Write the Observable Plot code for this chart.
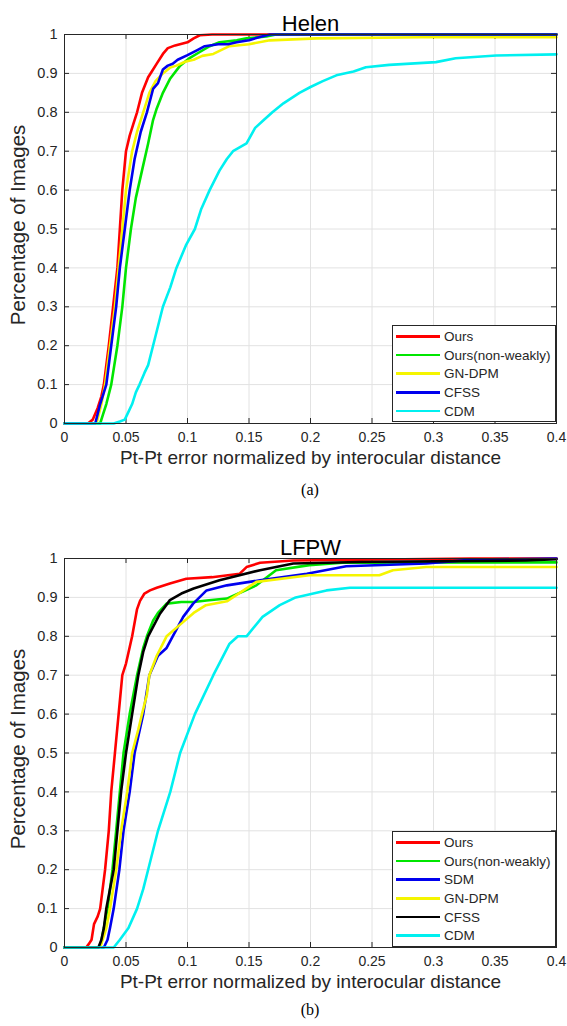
<!DOCTYPE html>
<html>
<head>
<meta charset="utf-8">
<script src="https://cdn.jsdelivr.net/npm/d3@7"></script>
<script src="https://cdn.jsdelivr.net/npm/@observablehq/plot@0.6"></script>
<style>
  html, body { margin: 0; padding: 0; background: #fff; }
  #root { position: relative; width: 567px; height: 1026px; overflow: hidden; font-family: "Liberation Sans", Arial, sans-serif; }
  .panel { position: absolute; left: 0; }
  .caption { position: absolute; left: 0; width: 620px; text-align: center; font-family: "Liberation Serif", "Times New Roman", serif; font-size: 16px; color: #000; }
  .legend { position: absolute; box-sizing: border-box; border: 1px solid #262626; background: #fff; padding: 1px 0; }
  .legend .row { display: flex; align-items: center; height: 18.7px; }
  .legend .swatch { width: 44px; height: 2.6px; margin-left: 3px; }
  .legend .lab { margin-left: 4px; font-size: 13.5px; color: #262626; white-space: nowrap; }
</style>
</head>
<body>
<div id="root"></div>
<script>
// ---------- tick labels ----------
const xTicks = [0, 0.05, 0.1, 0.15, 0.2, 0.25, 0.3, 0.35, 0.4];
const yTicks = [0, 0.1, 0.2, 0.3, 0.4, 0.5, 0.6, 0.7, 0.8, 0.9, 1];
const xLabel = "Pt-Pt error normalized by interocular distance";
const yLabel = "Percentage of Images";

// ---------- Helen ----------
const helenNames = ["Ours", "Ours(non-weakly)", "GN-DPM", "CFSS", "CDM"];
const helenColors = ["#ff0000", "#00e600", "#f5f500", "#0000ee", "#00f0f0"];
const helenOurs = [[0,0],[0.019,0],[0.023,0.01],[0.027,0.04],[0.030,0.07],[0.032,0.1],[0.036,0.2],[0.0395,0.3],[0.043,0.4],[0.045,0.5],[0.047,0.6],[0.050,0.7],[0.053,0.74],[0.056,0.77],[0.059,0.8],[0.063,0.85],[0.068,0.89],[0.072,0.91],[0.075,0.925],[0.080,0.95],[0.084,0.965],[0.090,0.972],[0.1,0.98],[0.105,0.99],[0.11,0.998],[0.12,1.0],[0.4,1.0]];
const helenNonWeakly = [[0,0],[0.029,0],[0.031,0.02],[0.034,0.05],[0.038,0.1],[0.043,0.2],[0.047,0.3],[0.050,0.4],[0.054,0.5],[0.058,0.58],[0.063,0.65],[0.068,0.72],[0.072,0.78],[0.075,0.81],[0.080,0.85],[0.086,0.887],[0.094,0.92],[0.102,0.94],[0.11,0.955],[0.118,0.97],[0.126,0.98],[0.14,0.985],[0.148,0.99],[0.164,0.995],[0.172,1.0],[0.4,1.0]];
const helenGNDPM = [[0,0],[0.026,0],[0.030,0.05],[0.033,0.1],[0.037,0.2],[0.041,0.3],[0.044,0.4],[0.047,0.5],[0.050,0.6],[0.055,0.7],[0.059,0.75],[0.064,0.8],[0.069,0.85],[0.074,0.88],[0.080,0.9],[0.086,0.915],[0.091,0.92],[0.098,0.93],[0.105,0.935],[0.112,0.945],[0.121,0.95],[0.134,0.97],[0.15,0.975],[0.167,0.985],[0.205,0.99],[0.29,0.993],[0.4,0.993]];
const helenCFSS = [[0,0],[0.025,0],[0.029,0.05],[0.034,0.1],[0.038,0.2],[0.042,0.3],[0.045,0.4],[0.049,0.5],[0.053,0.6],[0.057,0.68],[0.062,0.75],[0.067,0.8],[0.072,0.86],[0.076,0.875],[0.080,0.91],[0.084,0.92],[0.088,0.925],[0.092,0.935],[0.1,0.947],[0.108,0.96],[0.114,0.97],[0.125,0.975],[0.133,0.975],[0.14,0.98],[0.15,0.985],[0.158,0.993],[0.167,1.0],[0.4,1.0]];
const helenCDM = [[0,0],[0.040,0],[0.045,0.005],[0.049,0.01],[0.052,0.03],[0.055,0.05],[0.058,0.08],[0.061,0.1],[0.065,0.13],[0.068,0.15],[0.072,0.2],[0.076,0.25],[0.080,0.3],[0.086,0.35],[0.091,0.4],[0.095,0.43],[0.099,0.46],[0.106,0.5],[0.111,0.55],[0.118,0.6],[0.126,0.65],[0.132,0.68],[0.137,0.7],[0.148,0.72],[0.155,0.76],[0.162,0.78],[0.169,0.8],[0.178,0.823],[0.191,0.85],[0.2,0.865],[0.21,0.88],[0.221,0.895],[0.235,0.905],[0.245,0.916],[0.264,0.922],[0.302,0.929],[0.318,0.939],[0.351,0.946],[0.4,0.949]];

// ---------- LFPW ----------
const lfpwNames = ["Ours", "Ours(non-weakly)", "SDM", "GN-DPM", "CFSS", "CDM"];
const lfpwColors = ["#ff0000", "#00e600", "#0000ee", "#f5f500", "#000000", "#00f0f0"];
const lfpwOurs = [[0,0],[0.0176,0],[0.020,0.01],[0.022,0.02],[0.024,0.06],[0.027,0.08],[0.029,0.1],[0.031,0.15],[0.033,0.2],[0.036,0.3],[0.038,0.4],[0.041,0.5],[0.044,0.6],[0.047,0.7],[0.050,0.73],[0.055,0.8],[0.059,0.87],[0.0614,0.891],[0.065,0.91],[0.0695,0.918],[0.075,0.925],[0.0857,0.936],[0.099,0.948],[0.12,0.952],[0.1425,0.961],[0.148,0.978],[0.159,0.989],[0.186,0.995],[0.33,1.0],[0.4,1.0]];
const lfpwNonWeakly = [[0,0],[0.029,0],[0.032,0.05],[0.035,0.1],[0.039,0.2],[0.042,0.3],[0.045,0.4],[0.048,0.5],[0.053,0.6],[0.059,0.7],[0.064,0.77],[0.067,0.8],[0.072,0.84],[0.076,0.86],[0.083,0.884],[0.095,0.888],[0.105,0.888],[0.1155,0.892],[0.132,0.897],[0.145,0.915],[0.156,0.931],[0.172,0.97],[0.199,0.983],[0.226,0.989],[0.4,0.99]];
const lfpwSDM = [[0,0],[0.032,0],[0.035,0.02],[0.037,0.05],[0.040,0.1],[0.0446,0.2],[0.048,0.3],[0.053,0.4],[0.057,0.5],[0.064,0.6],[0.069,0.7],[0.076,0.75],[0.083,0.77],[0.088,0.8],[0.0965,0.85],[0.1046,0.884],[0.1155,0.918],[0.132,0.931],[0.159,0.944],[0.197,0.961],[0.229,0.98],[0.294,0.987],[0.332,0.997],[0.4,1.0]];
const lfpwGNDPM = [[0,0],[0.029,0],[0.034,0.05],[0.037,0.1],[0.042,0.2],[0.046,0.3],[0.051,0.4],[0.055,0.5],[0.060,0.56],[0.063,0.6],[0.067,0.65],[0.069,0.7],[0.075,0.75],[0.083,0.8],[0.094,0.83],[0.105,0.86],[0.115,0.88],[0.132,0.89],[0.156,0.94],[0.199,0.957],[0.256,0.957],[0.267,0.97],[0.294,0.978],[0.4,0.978]];
const lfpwCFSS = [[0,0],[0.0276,0],[0.030,0.02],[0.032,0.05],[0.034,0.1],[0.040,0.2],[0.043,0.3],[0.046,0.4],[0.050,0.5],[0.055,0.6],[0.060,0.7],[0.064,0.76],[0.068,0.8],[0.0776,0.858],[0.0857,0.893],[0.095,0.91],[0.105,0.923],[0.126,0.944],[0.159,0.97],[0.186,0.987],[0.24,0.991],[0.375,0.995],[0.4,0.998]];
const lfpwCDM = [[0,0],[0.040,0],[0.045,0.02],[0.052,0.05],[0.059,0.1],[0.064,0.15],[0.068,0.2],[0.076,0.3],[0.086,0.4],[0.094,0.5],[0.106,0.6],[0.121,0.7],[0.134,0.78],[0.141,0.8],[0.148,0.8],[0.161,0.85],[0.175,0.88],[0.188,0.9],[0.213,0.918],[0.232,0.925],[0.4,0.925]];

function toRows(names, seriesList) {
  const rows = [];
  names.forEach((n, i) => seriesList[i].forEach(([x, y]) => rows.push({name: n, x, y})));
  return rows;
}

function panel(title, names, colors, seriesList) {
  const rows = toRows(names, seriesList);
  const ink = "#262626";
  return Plot.plot({
    width: 567, height: 478,
    marginTop: 34, marginBottom: 55, marginLeft: 64, marginRight: 11,
    style: {fontFamily: '"Liberation Sans", Arial, sans-serif', fontSize: "14px", color: ink, background: "transparent", overflow: "visible"},
    x: {domain: [0, 0.4]},
    y: {domain: [0, 1]},
    color: {domain: names, range: colors},
    marks: [
      Plot.gridX(xTicks, {stroke: "#e2e2e2", strokeOpacity: 1}),
      Plot.gridY(yTicks, {stroke: "#e2e2e2", strokeOpacity: 1}),
      Plot.tickX(xTicks, {x: d => d, stroke: ink, insetTop: 384}),
      Plot.tickX(xTicks, {x: d => d, stroke: ink, insetBottom: 384}),
      Plot.tickY(yTicks, {y: d => d, stroke: ink, insetRight: 487}),
      Plot.tickY(yTicks, {y: d => d, stroke: ink, insetLeft: 487}),
      Plot.axisX(xTicks, {tickSize: 0, tickPadding: 9, label: null, tickFormat: d => String(d), fill: ink, fontSize: 14}),
      Plot.axisY(yTicks, {tickSize: 0, tickPadding: 7, label: null, tickFormat: d => String(d), fill: ink, fontSize: 14.5}),
      Plot.line(rows, {x: "x", y: "y", z: "name", stroke: "name", strokeWidth: 2.6, curve: "linear"}),
      Plot.frame({stroke: ink, strokeWidth: 1}),
      Plot.text([title], {text: d => d, frameAnchor: "top", textAnchor: "middle", dy: -19, fontSize: 22, fill: "#000"}),
      Plot.text([xLabel], {text: d => d, frameAnchor: "bottom", textAnchor: "middle", dy: 40, fontSize: 19, fill: ink}),
      Plot.text([yLabel], {text: d => d, frameAnchor: "left", textAnchor: "middle", rotate: -90, dx: -46, dy: -4, fontSize: 20.5, fill: ink})
    ]
  });
}

function legend(names, colors, left, top, width, height) {
  const div = document.createElement("div");
  div.className = "legend";
  Object.assign(div.style, {left: left + "px", top: top + "px", width: width + "px", height: height + "px"});
  names.forEach((n, i) => {
    const row = document.createElement("div");
    row.className = "row";
    const sw = document.createElement("span");
    sw.className = "swatch";
    sw.style.background = colors[i];
    const lab = document.createElement("span");
    lab.className = "lab";
    lab.textContent = n;
    row.appendChild(sw); row.appendChild(lab);
    div.appendChild(row);
  });
  return div;
}

const root = document.getElementById("root");

const a = panel("Helen", helenNames, helenColors, [helenOurs, helenNonWeakly, helenGNDPM, helenCFSS, helenCDM]);
a.classList.add("panel"); a.style.top = "0px";
root.appendChild(a);
root.appendChild(legend(helenNames, helenColors, 392, 325, 164, 97));
const capA = document.createElement("div");
capA.className = "caption"; capA.style.top = "481px"; capA.textContent = "(a)";
root.appendChild(capA);

const b = panel("LFPW", lfpwNames, lfpwColors, [lfpwOurs, lfpwNonWeakly, lfpwSDM, lfpwGNDPM, lfpwCFSS, lfpwCDM]);
b.classList.add("panel"); b.style.top = "524px";
root.appendChild(b);
root.appendChild(legend(lfpwNames, lfpwColors, 392, 831, 164, 116));
const capB = document.createElement("div");
capB.className = "caption"; capB.style.top = "1001px"; capB.textContent = "(b)";
root.appendChild(capB);
</script>
</body>
</html>
